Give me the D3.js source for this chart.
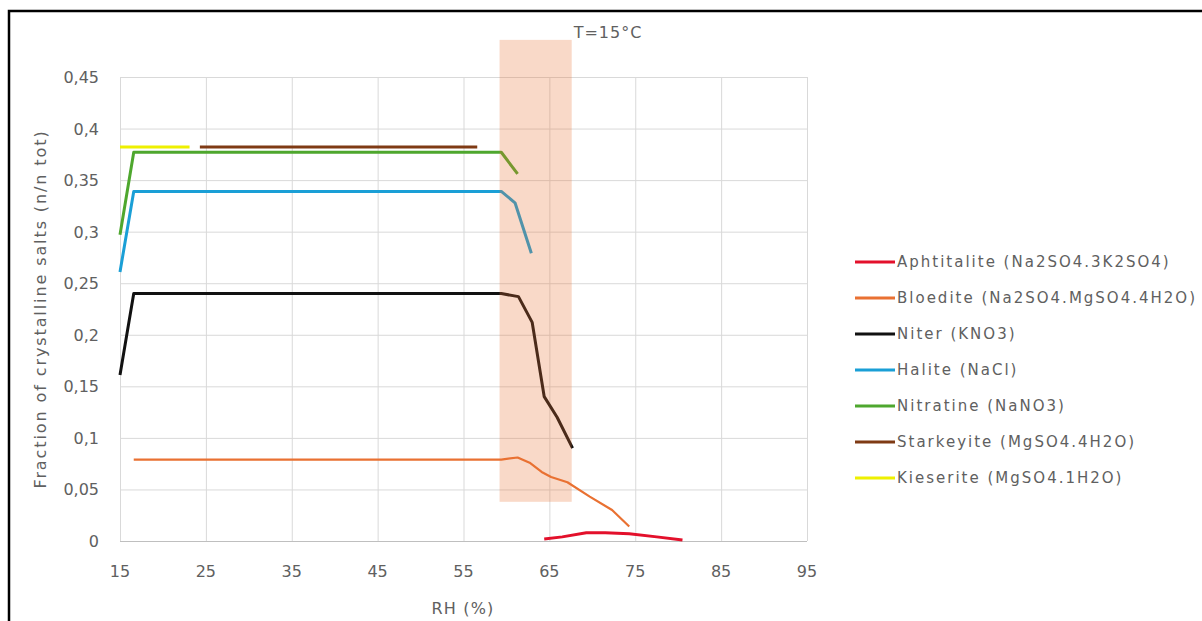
<!DOCTYPE html>
<html>
<head>
<meta charset="utf-8">
<script src="https://cdn.jsdelivr.net/npm/d3@7/dist/d3.min.js"></script>
<style>
  body { margin: 0; background: #fff; }
  svg text { font-family: "DejaVu Sans", "Open Sans", sans-serif; fill: #606060; }
</style>
</head>
<body>
<div id="chart"></div>
<script>
'use strict';

var width = 1202;
var height = 621;

// values: [RH %, fraction]
var aphtitalite = [[64.4, 0.002], [66.5, 0.004], [69.3, 0.008], [71.5, 0.008], [74.3, 0.007], [77.5, 0.004], [80.5, 0.001]];
var bloedite = [[16.6, 0.079], [30, 0.079], [45, 0.079], [59.4, 0.079], [61.3, 0.081], [62.7, 0.076], [64.1, 0.067], [65.2, 0.062], [67.1, 0.057], [69.7, 0.043], [72.3, 0.030], [74.3, 0.014]];
var niter = [[15, 0.161], [16.6, 0.240], [30, 0.240], [45, 0.240], [59.4, 0.240], [61.4, 0.237], [63.0, 0.212], [64.4, 0.140], [65.9, 0.120], [67.7, 0.090]];
var halite = [[15, 0.261], [16.6, 0.339], [30, 0.339], [45, 0.339], [59.4, 0.339], [61.0, 0.328], [62.9, 0.279]];
var nitratine = [[15, 0.297], [16.6, 0.377], [30, 0.377], [45, 0.377], [59.4, 0.377], [61.3, 0.356]];
var starkeyite = [[24.3, 0.382], [35, 0.382], [45, 0.382], [56.6, 0.382]];
var kieserite = [[15, 0.382], [18, 0.382], [21, 0.382], [23.1, 0.382]];

var seriesNames = ['Aphtitalite (Na2SO4.3K2SO4)', 'Bloedite (Na2SO4.MgSO4.4H2O)', 'Niter (KNO3)',
  'Halite (NaCl)', 'Nitratine (NaNO3)', 'Starkeyite (MgSO4.4H2O)', 'Kieserite (MgSO4.1H2O)'];
var seriesValues = [aphtitalite, bloedite, niter, halite, nitratine, starkeyite, kieserite];
var seriesColors = ['#e3102b', '#e97132', '#111111', '#1a9fd6', '#4ea72e', '#7f3a14', '#eef000'];
var seriesWidths = [3, 2.2, 3, 3, 3, 3, 3];

var xTicks = [15, 25, 35, 45, 55, 65, 75, 85, 95];
var yTicks = [0, 0.05, 0.1, 0.15, 0.2, 0.25, 0.3, 0.35, 0.4, 0.45];

// shaded transition band (RH range, fraction range)
var bandRH = [59.2, 67.6];
var bandFrac = [0.038, 0.486];

var x = d3.scaleLinear().domain([15, 95]).range([120, 807]);
var y = d3.scaleLinear().domain([0, 0.45]).range([541, 77]);

var comma = d3.formatLocale({decimal: ',', thousands: '.', grouping: [3], currency: ['', '']}).format('.2~f');

var svg = d3.select('#chart').append('svg')
    .attr('width', width)
    .attr('height', height);

svg.append('rect').attr('width', width).attr('height', height).attr('fill', '#fff');

// cropped frame: only left and top edges show
svg.append('path')
    .attr('d', 'M9,' + height + 'V11H' + width)
    .attr('fill', 'none')
    .attr('stroke', '#000')
    .attr('stroke-width', 2.5);

// grid
svg.append('g')
    .attr('transform', 'translate(0,541)')
    .call(d3.axisBottom(x).tickValues(xTicks).tickSize(-(541 - 77)).tickFormat(''))
    .call(g => g.select('.domain').remove())
    .call(g => g.selectAll('line').attr('stroke', '#d9d9d9'));

svg.append('g')
    .attr('transform', 'translate(120,0)')
    .call(d3.axisLeft(y).tickValues(yTicks).tickSize(-(807 - 120)).tickFormat(''))
    .call(g => g.select('.domain').remove())
    .call(g => g.selectAll('line').attr('stroke', d => d === 0 ? '#bfbfbf' : '#d9d9d9'));

// tick labels
svg.append('g').selectAll('text')
    .data(xTicks)
    .join('text')
    .attr('x', d => x(d))
    .attr('y', 577)
    .attr('text-anchor', 'middle')
    .style('font-size', '16px')
    .text(d => d);

svg.append('g').selectAll('text')
    .data(yTicks)
    .join('text')
    .attr('x', 99)
    .attr('y', d => y(d) + 6)
    .attr('text-anchor', 'end')
    .style('font-size', '16px')
    .text(d => comma(d));

// series
var line = d3.line().x(d => x(d[0])).y(d => y(d[1]));

svg.append('g').selectAll('path')
    .data(seriesValues)
    .join('path')
    .attr('d', line)
    .attr('fill', 'none')
    .attr('stroke', (d, i) => seriesColors[i])
    .attr('stroke-width', (d, i) => seriesWidths[i])
    .attr('stroke-linejoin', 'round');

// band drawn over the lines
svg.append('rect')
    .attr('x', x(bandRH[0]))
    .attr('y', y(bandFrac[1]))
    .attr('width', x(bandRH[1]) - x(bandRH[0]))
    .attr('height', y(bandFrac[0]) - y(bandFrac[1]))
    .attr('fill', '#e97132')
    .attr('fill-opacity', 0.27);

// titles
svg.append('text')
    .attr('x', 608)
    .attr('y', 38)
    .attr('text-anchor', 'middle')
    .style('font-size', '16px')
    .style('letter-spacing', '1px')
    .text('T=15°C');

svg.append('text')
    .attr('x', 463)
    .attr('y', 614)
    .attr('text-anchor', 'middle')
    .style('font-size', '16px')
    .style('letter-spacing', '1.2px')
    .text('RH (%)');

svg.append('text')
    .attr('transform', 'translate(46,309) rotate(-90)')
    .attr('text-anchor', 'middle')
    .style('font-size', '16px')
    .style('letter-spacing', '1.9px')
    .text('Fraction of crystalline salts (n/n tot)');

// legend
var legend = svg.append('g').selectAll('g')
    .data(seriesNames)
    .join('g')
    .attr('transform', (d, i) => 'translate(855,' + (262 + i * 36) + ')');

legend.append('line')
    .attr('x1', 0).attr('x2', 40)
    .attr('stroke', (d, i) => seriesColors[i])
    .attr('stroke-width', 3);

legend.append('text')
    .attr('x', 42)
    .attr('y', 5)
    .style('font-size', '15px')
    .style('letter-spacing', '2px')
    .text(d => d);
</script>
</body>
</html>
